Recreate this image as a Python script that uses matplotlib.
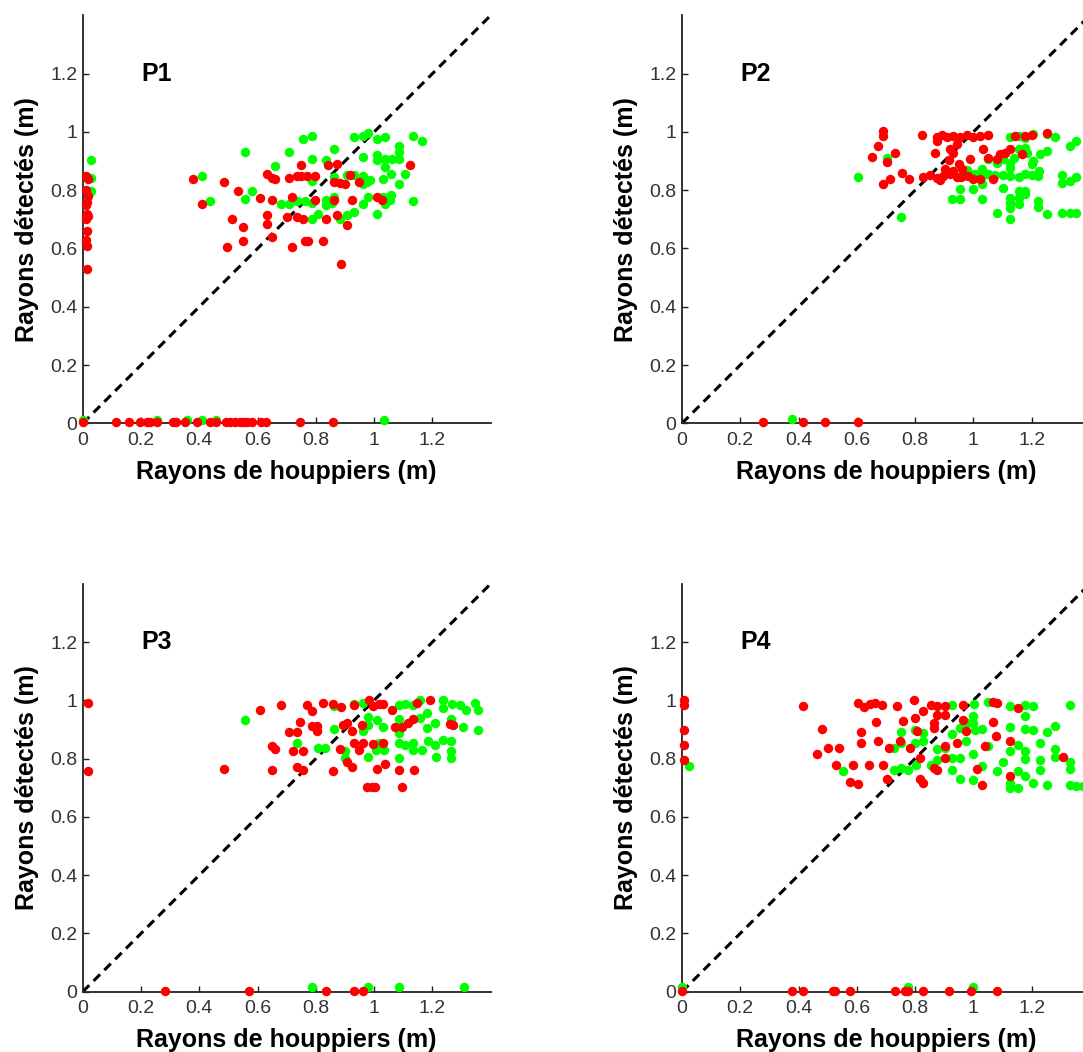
import matplotlib
matplotlib.use('Agg')
from matplotlib import pyplot as plt

plt.rcParams['font.family'] = ['Liberation Sans', 'DejaVu Sans']

# panel names and axis labels
panel_names = ['P1', 'P2', 'P3', 'P4']
xlabel_txt = 'Rayons de houppiers (m)'
ylabel_txt = 'Rayons détectés (m)'
tick_vals = [0, 0.2, 0.4, 0.6, 0.8, 1.0, 1.2]
tick_txt = ['0', '0.2', '0.4', '0.6', '0.8', '1', '1.2']

# ---- P1
p1_green_x = [0.557, 0.757, 0.786, 0.862, 0.786, 0.708, 0.660, 0.835, 0.931, 0.961, 0.980, 1.009, 1.037, 1.134,
              1.163, 1.086, 1.086, 0.961, 1.009, 1.009, 1.037, 1.037, 1.060, 1.086, 0.408, 0.437, 0.582, 0.557,
              0.679, 0.708, 0.736, 0.763, 0.786, 0.786, 0.786, 0.808, 0.835, 0.835, 0.862, 0.862, 0.857, 0.883,
              0.908, 0.931, 0.908, 0.931, 0.961, 0.961, 0.974, 0.986, 0.961, 0.980, 1.009, 1.031, 1.031, 1.037,
              1.055, 1.058, 1.058, 1.086, 1.106, 1.134, 1.035, 0.027, 0.027, 0.027, 0.002, 0.256, 0.359, 0.408,
              0.457]
p1_green_y = [0.931, 0.974, 0.986, 0.940, 0.908, 0.931, 0.882, 0.903, 0.981, 0.986, 0.998, 0.977, 0.981, 0.986,
              0.968, 0.952, 0.931, 0.914, 0.920, 0.903, 0.908, 0.880, 0.908, 0.908, 0.848, 0.763, 0.796, 0.771,
              0.751, 0.751, 0.763, 0.763, 0.756, 0.702, 0.831, 0.719, 0.765, 0.748, 0.846, 0.777, 0.756, 0.702,
              0.714, 0.725, 0.851, 0.851, 0.848, 0.822, 0.828, 0.834, 0.751, 0.777, 0.719, 0.840, 0.777, 0.754,
              0.765, 0.782, 0.855, 0.822, 0.855, 0.763, 0.011, 0.903, 0.843, 0.797, 0.011, 0.011, 0.011, 0.011,
              0.011]
p1_red_x = [0.380, 0.408, 0.485, 0.496, 0.513, 0.534, 0.551, 0.551, 0.608, 0.631, 0.649, 0.660, 0.631, 0.631,
            0.649, 0.649, 0.708, 0.734, 0.748, 0.768, 0.797, 0.748, 0.719, 0.700, 0.736, 0.757, 0.719, 0.763,
            0.774, 0.826, 0.797, 0.835, 0.843, 0.871, 0.862, 0.883, 0.900, 0.862, 0.871, 0.885, 0.908, 0.923,
            0.917, 0.949, 1.009, 1.026, 1.123,
            0.012, 0.018, 0.012, 0.018, 0.015, 0.012, 0.015, 0.018, 0.012, 0.015, 0.012, 0.015, 0.015,
            0.000, 0.115, 0.159, 0.196, 0.221, 0.230, 0.255, 0.310, 0.321, 0.350, 0.392, 0.436, 0.459, 0.491,
            0.504, 0.521, 0.539, 0.550, 0.562, 0.582, 0.613, 0.630, 0.744, 0.859]
p1_red_y = [0.840, 0.751, 0.828, 0.605, 0.702, 0.797, 0.674, 0.625, 0.774, 0.857, 0.843, 0.837, 0.714, 0.685,
            0.767, 0.639, 0.843, 0.848, 0.848, 0.848, 0.848, 0.888, 0.777, 0.708, 0.708, 0.702, 0.605, 0.625,
            0.625, 0.625, 0.765, 0.702, 0.888, 0.891, 0.828, 0.825, 0.822, 0.765, 0.714, 0.548, 0.679, 0.767,
            0.851, 0.828, 0.777, 0.767, 0.888,
            0.850, 0.840, 0.800, 0.780, 0.760, 0.750, 0.720, 0.710, 0.700, 0.660, 0.630, 0.610, 0.530,
            0.004, 0.004, 0.004, 0.004, 0.004, 0.004, 0.004, 0.004, 0.004, 0.004, 0.004, 0.004, 0.004, 0.004,
            0.004, 0.004, 0.004, 0.004, 0.004, 0.004, 0.004, 0.004, 0.004, 0.004]

# ---- P2
p2_green_x = [0.605, 0.703, 0.752, 1.051, 1.126, 1.155, 1.178, 1.206, 1.252, 1.280, 1.330, 1.352, 1.155, 1.178,
              1.183, 1.229, 1.252, 1.206, 1.201, 1.051, 1.080, 1.103, 1.126, 1.126, 1.138, 0.977, 1.005, 1.028,
              0.971, 1.000, 1.028, 1.051, 1.074, 1.103, 1.126, 1.155, 1.178, 1.201, 1.226, 1.223, 1.028, 1.303,
              1.303, 1.330, 1.352, 0.954, 1.000, 1.103, 0.926, 0.954, 1.028, 1.126, 1.126, 1.126, 1.155, 1.155,
              1.155, 1.178, 1.178, 1.080, 1.126, 1.223, 1.223, 1.252, 1.303, 1.330, 1.352, 0.376]
p2_green_y = [0.845, 0.912, 0.709, 0.989, 0.984, 0.986, 0.980, 0.992, 0.992, 0.984, 0.952, 0.969, 0.940, 0.946,
              0.929, 0.923, 0.935, 0.900, 0.889, 0.906, 0.894, 0.908, 0.894, 0.877, 0.912, 0.869, 0.854, 0.872,
              0.851, 0.851, 0.848, 0.854, 0.851, 0.851, 0.849, 0.846, 0.854, 0.852, 0.866, 0.849, 0.820, 0.851,
              0.826, 0.831, 0.846, 0.803, 0.803, 0.808, 0.771, 0.771, 0.771, 0.774, 0.757, 0.740, 0.797, 0.774,
              0.751, 0.786, 0.797, 0.722, 0.700, 0.763, 0.743, 0.717, 0.722, 0.722, 0.722, 0.015]
p2_red_x = [0.691, 0.691, 0.674, 0.651, 0.703, 0.731, 0.689, 0.714, 0.754, 0.780, 0.823, 0.874, 0.891, 0.908,
            0.931, 0.954, 0.977, 1.000, 1.023, 1.051, 0.874, 0.868, 0.920, 0.931, 0.828, 0.851, 0.874, 0.897,
            0.920, 0.943, 0.966, 0.886, 0.931, 0.949, 0.960, 0.989, 1.032, 1.051, 1.069, 1.080, 1.092, 1.109,
            1.126, 1.143, 1.178, 1.201, 1.166, 1.252, 1.023, 1.000, 0.903, 0.915, 0.945, 0.957, 0.983,
            0.279, 0.414, 0.490, 0.605]
p2_red_y = [1.003, 0.986, 0.952, 0.915, 0.897, 0.927, 0.820, 0.837, 0.860, 0.837, 0.989, 0.984, 0.989, 0.983,
            0.986, 0.984, 0.988, 0.983, 0.986, 0.989, 0.969, 0.927, 0.940, 0.929, 0.846, 0.852, 0.843, 0.849,
            0.855, 0.846, 0.852, 0.835, 0.866, 0.889, 0.872, 0.906, 0.940, 0.912, 0.837, 0.906, 0.923, 0.929,
            0.940, 0.986, 0.986, 0.989, 0.923, 0.998, 0.837, 0.837, 0.872, 0.905, 0.958, 0.845, 0.850,
            0.003, 0.003, 0.003, 0.003]

# ---- P3
p3_green_x = [0.557, 0.736, 0.806, 0.831, 0.862, 0.862, 0.931, 0.963, 0.900, 0.900, 0.963, 0.980, 0.980, 1.009,
              1.032, 0.980, 1.006, 1.015, 1.034, 1.086, 1.106, 1.134, 1.086, 1.086, 1.086, 1.086, 1.086, 1.106,
              1.134, 1.134, 1.163, 1.186, 1.209, 1.157, 1.180, 1.180, 1.157, 1.209, 1.212, 1.237, 1.237, 1.266,
              1.295, 1.316, 1.346, 1.357, 1.237, 1.263, 1.263, 1.263, 1.263, 1.306, 1.357, 0.786, 0.980, 1.086,
              1.309]
p3_green_y = [0.934, 0.853, 0.836, 0.836, 0.982, 0.901, 0.989, 0.991, 0.825, 0.802, 0.893, 0.916, 0.943, 0.934,
              0.910, 0.805, 0.830, 0.853, 0.830, 0.985, 0.989, 0.985, 0.936, 0.911, 0.888, 0.853, 0.802, 0.848,
              0.853, 0.830, 0.830, 0.859, 0.848, 1.002, 0.956, 0.905, 0.939, 0.922, 0.805, 1.002, 0.973, 0.989,
              0.985, 0.968, 0.991, 0.968, 0.865, 0.859, 0.825, 0.802, 0.936, 0.908, 0.897, 0.017, 0.017, 0.017,
              0.017]
p3_red_x = [0.017, 0.017, 0.485, 0.608, 0.679, 0.648, 0.660, 0.648, 0.709, 0.736, 0.746, 0.720, 0.757, 0.736,
            0.757, 0.768, 0.786, 0.786, 0.803, 0.803, 0.823, 0.860, 0.885, 0.860, 0.883, 0.894, 0.906, 0.923,
            0.908, 0.923, 0.931, 0.931, 0.961, 0.948, 0.957, 0.983, 0.997, 1.015, 1.032, 0.974, 0.991, 1.003,
            0.997, 1.009, 1.032, 1.037, 1.060, 1.071, 1.094, 1.117, 1.086, 1.094, 1.137, 1.134, 1.146, 1.192,
            1.260, 1.272, 0.282, 0.572, 0.834, 0.931, 0.961]
p3_red_y = [0.991, 0.759, 0.766, 0.968, 0.984, 0.842, 0.833, 0.762, 0.890, 0.890, 0.924, 0.825, 0.825, 0.771,
            0.762, 0.985, 0.962, 0.911, 0.911, 0.894, 0.991, 0.989, 0.977, 0.756, 0.833, 0.916, 0.922, 0.893,
            0.787, 0.771, 0.985, 0.853, 0.853, 0.828, 0.916, 1.002, 0.979, 0.989, 0.989, 0.704, 0.704, 0.704,
            0.850, 0.764, 0.853, 0.782, 0.968, 0.910, 0.910, 0.922, 0.762, 0.704, 0.762, 0.936, 0.991, 1.002,
            0.919, 0.916, 0.003, 0.003, 0.003, 0.003, 0.003]

# ---- P4
p4_green_x = [0.025, 0.000, 0.551, 0.729, 0.751, 0.777, 0.729, 0.751, 0.751, 0.799, 0.799, 0.803, 0.828, 0.828,
              0.854, 0.876, 0.876, 0.903, 0.926, 0.926, 0.926, 0.926, 0.954, 0.954, 0.954, 0.977, 1.000, 1.006,
              1.028, 0.975, 1.000, 1.002, 1.000, 1.000, 1.028, 1.051, 1.051, 1.080, 1.101, 1.126, 1.126, 1.126,
              1.126, 1.126, 1.154, 1.154, 1.154, 1.177, 1.177, 1.206, 1.177, 1.177, 1.206, 1.177, 1.177, 1.206,
              1.227, 1.227, 1.227, 1.252, 1.252, 1.281, 1.281, 1.281, 1.330, 1.330, 1.330, 1.330, 1.352, 1.375,
              0.777, 1.000]
p4_green_y = [0.776, 0.017, 0.756, 0.762, 0.767, 0.762, 0.836, 0.853, 0.891, 0.899, 0.853, 0.779, 0.887, 0.862,
              0.779, 0.794, 0.833, 0.836, 0.985, 0.885, 0.802, 0.762, 0.802, 0.730, 0.905, 0.922, 0.922, 0.899,
              0.901, 0.859, 0.945, 0.989, 0.817, 0.727, 0.776, 0.993, 0.842, 0.756, 0.787, 0.979, 0.908, 0.827,
              0.716, 0.699, 0.699, 0.848, 0.756, 0.739, 0.985, 0.979, 0.947, 0.901, 0.897, 0.825, 0.798, 0.716,
              0.853, 0.796, 0.762, 0.890, 0.710, 0.913, 0.833, 0.804, 0.985, 0.790, 0.764, 0.710, 0.707, 0.707,
              0.017, 0.017]
p4_red_x = [0.007, 0.007, 0.007, 0.007, 0.007, 0.414, 0.462, 0.479, 0.502, 0.540, 0.529, 0.577, 0.605, 0.588,
            0.643, 0.691, 0.605, 0.625, 0.646, 0.663, 0.685, 0.614, 0.614, 0.666, 0.674, 0.703, 0.712, 0.739,
            0.748, 0.757, 0.783, 0.796, 0.800, 0.805, 0.828, 0.817, 0.817, 0.828, 0.854, 0.874, 0.903, 0.876,
            0.903, 0.865, 0.865, 0.865, 0.876, 0.903, 0.903, 0.943, 0.963, 0.963, 0.975, 1.011, 1.028, 1.040,
            1.069, 1.069, 1.080, 1.078, 1.126, 1.126, 1.154, 1.309,
            0.000, 0.376, 0.414, 0.517, 0.525, 0.577, 0.731, 0.765, 0.777, 0.828, 0.916, 0.991, 1.080]
p4_red_y = [1.002, 0.985, 0.897, 0.848, 0.794, 0.979, 0.817, 0.903, 0.836, 0.836, 0.777, 0.718, 0.712, 0.777,
            0.777, 0.777, 0.991, 0.977, 0.989, 0.991, 0.985, 0.891, 0.853, 0.924, 0.859, 0.730, 0.836, 0.979,
            0.859, 0.928, 0.836, 1.000, 0.939, 0.894, 0.962, 0.802, 0.730, 0.716, 0.985, 0.979, 0.979, 0.951,
            0.951, 0.922, 0.905, 0.767, 0.760, 0.844, 0.802, 0.853, 0.985, 0.934, 0.894, 0.764, 0.710, 0.842,
            0.924, 0.993, 0.991, 0.879, 0.859, 0.739, 0.974, 0.804,
            0.003, 0.003, 0.003, 0.003, 0.003, 0.003, 0.003, 0.003, 0.003, 0.003, 0.003, 0.003, 0.003]

greens = [(p1_green_x, p1_green_y), (p2_green_x, p2_green_y), (p3_green_x, p3_green_y), (p4_green_x, p4_green_y)]
reds = [(p1_red_x, p1_red_y), (p2_red_x, p2_red_y), (p3_red_x, p3_red_y), (p4_red_x, p4_red_y)]

fig = plt.figure(figsize=(10.83, 10.52), dpi=100)

# axes boxes, figure fractions (right column runs past the edge like the original)
lefts = [0.0764, 0.6297, 0.0764, 0.6297]
bottoms = [0.5976, 0.5976, 0.0573, 0.0573]
w, h = 0.3767, 0.3878

for i in range(4):
    ax = fig.add_axes([lefts[i], bottoms[i], w, h])
    ax.plot([0, 1.4], [0, 1.4], color='k', lw=2.2, dashes=(3, 2), zorder=1)
    gx, gy = greens[i]
    rx, ry = reds[i]
    ax.plot(gx, gy, 'o', color=(0, 1, 0), ms=6.8, mew=0, clip_on=False, zorder=3)
    ax.plot(rx, ry, 'o', color=(1, 0, 0), ms=6.8, mew=0, clip_on=False, zorder=3)
    ax.text(0.2, 1.2, panel_names[i], fontsize=18, fontweight='bold', ha='left', va='center')

    ax.set_xlim(0, 1.4)
    ax.set_ylim(0, 1.4)
    ax.spines['top'].set_visible(False)
    ax.spines['right'].set_visible(False)
    for s in ['left', 'bottom']:
        ax.spines[s].set_linewidth(1.3)
        ax.spines[s].set_color('#222222')
    ax.set_xticks(tick_vals)
    ax.set_xticklabels(tick_txt)
    ax.set_yticks(tick_vals)
    ax.set_yticklabels(tick_txt)
    ax.tick_params(direction='in', length=4, width=1, color='#222222',
                   labelsize=14, labelcolor='#333333')
    ax.tick_params(axis='x', pad=6)
    ax.tick_params(axis='y', pad=4)
    ax.set_xlabel(xlabel_txt, fontsize=18, fontweight='bold', labelpad=8)
    ax.set_ylabel(ylabel_txt, fontsize=18, fontweight='bold', labelpad=8)

plt.savefig('out.png', dpi=100)
